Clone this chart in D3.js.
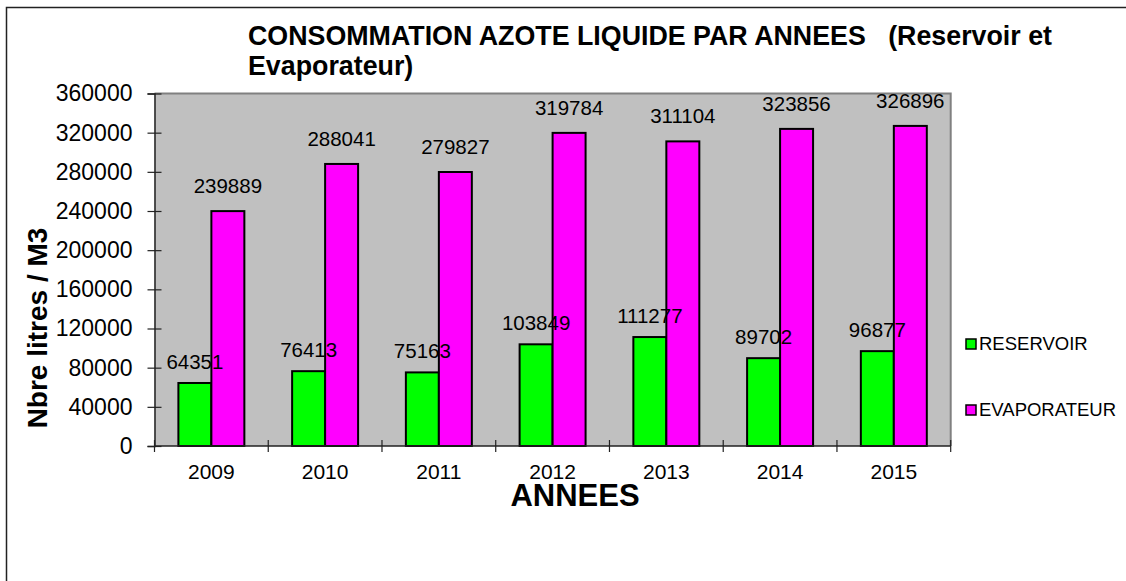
<!DOCTYPE html>
<html>
<head>
<meta charset="utf-8">
<script src="https://cdn.jsdelivr.net/npm/d3@7"></script>
<style>
  body { margin: 0; background: #fff; }
  text { font-family: "Liberation Sans", Arial, sans-serif; fill: #000; }
</style>
</head>
<body>
<div id="chart"></div>
<script>
var years = ["2009", "2010", "2011", "2012", "2013", "2014", "2015"];
var seriesNames = ["RESERVOIR", "EVAPORATEUR"];
var reservoir = [64351, 76413, 75163, 103849, 111277, 89702, 96877];
var evaporateur = [239889, 288041, 279827, 319784, 311104, 323856, 326896];
var yTicks = [0, 40000, 80000, 120000, 160000, 200000, 240000, 280000, 320000, 360000];
var colors = ["#00ff00", "#ff00ff"];

var svgWidth = 1126;
var svgHeight = 581;

var plot = { left: 154.5, top: 93.5, right: 950.7, bottom: 446 };

var svg = d3.select("#chart")
    .append("svg")
    .attr("width", svgWidth)
    .attr("height", svgHeight);

// outer frame of the chart object
svg.append("rect")
    .attr("x", 6.5).attr("y", 7.5)
    .attr("width", 1300).attr("height", 800)
    .attr("fill", "#fff")
    .attr("stroke", "#222")
    .attr("stroke-width", 1.5);

var x0 = d3.scaleBand()
    .domain(years)
    .range([plot.left, plot.right])
    .paddingInner(0.42)
    .paddingOuter(0.21);

var x1 = d3.scaleBand()
    .domain(seriesNames)
    .range([0, x0.bandwidth()]);

var y = d3.scaleLinear()
    .domain([0, 360000])
    .range([plot.bottom, plot.top]);

// plot area
svg.append("rect")
    .attr("x", plot.left).attr("y", plot.top)
    .attr("width", plot.right - plot.left)
    .attr("height", plot.bottom - plot.top)
    .attr("fill", "#c0c0c0");
svg.append("path")
    .attr("d", "M" + plot.left + "," + plot.top + "H" + plot.right + "V" + plot.bottom)
    .attr("fill", "none")
    .attr("stroke", "#808080")
    .attr("stroke-width", 2);

// bars
var rows = years.map(function(yr, i) {
    return { year: yr, values: [reservoir[i], evaporateur[i]] };
});

var groups = svg.append("g").selectAll("g")
    .data(rows)
    .enter()
    .append("g")
    .attr("transform", function(d) { return "translate(" + x0(d.year) + ",0)"; });

groups.selectAll("rect")
    .data(function(d) { return d.values.map(function(v, j) { return { name: seriesNames[j], value: v, idx: j }; }); })
    .enter()
    .append("rect")
    .attr("x", function(d) { return x1(d.name); })
    .attr("y", function(d) { return y(d.value); })
    .attr("width", x1.bandwidth())
    .attr("height", function(d) { return y(0) - y(d.value); })
    .attr("fill", function(d) { return colors[d.idx]; })
    .attr("stroke", "#000")
    .attr("stroke-width", 2);

groups.selectAll("text")
    .data(function(d) { return d.values.map(function(v, j) { return { name: seriesNames[j], value: v, idx: j }; }); })
    .enter()
    .append("text")
    .attr("x", function(d) { return x1(d.name) + x1.bandwidth() / 2; })
    .attr("y", function(d) { return y(d.value) - (d.idx === 1 ? 18 : 14); })
    .attr("text-anchor", "middle")
    .attr("font-size", 20.5)
    .text(function(d) { return d.value; });

// y axis
var leftAxis = d3.axisLeft(y)
    .tickValues(yTicks)
    .tickFormat(d3.format("d"))
    .tickSize(7)
    .tickPadding(15);

var yAxisG = svg.append("g")
    .attr("transform", "translate(" + plot.left + ",0)")
    .call(leftAxis);
yAxisG.select(".domain").attr("stroke", "#222").attr("stroke-width", 1.5);
yAxisG.selectAll(".tick line").attr("x1", 7).attr("stroke", "#222").attr("stroke-width", 1.2);
yAxisG.selectAll(".tick text")
    .attr("font-family", "Liberation Sans, Arial, sans-serif")
    .attr("font-size", 23)
    .attr("fill", "#000");

// x axis: line, ticks at category edges, labels
var xAxisG = svg.append("g");
xAxisG.append("line")
    .attr("x1", plot.left).attr("x2", plot.right)
    .attr("y1", y(0)).attr("y2", y(0))
    .attr("stroke", "#222").attr("stroke-width", 1.5);
var edges = d3.range(years.length + 1).map(function(i) {
    return x0.range()[0] + i * x0.step();
});
xAxisG.selectAll(".edge")
    .data(edges)
    .enter()
    .append("line")
    .attr("x1", function(d) { return d; })
    .attr("x2", function(d) { return d; })
    .attr("y1", y(0) - 6)
    .attr("y2", y(0) + 6)
    .attr("stroke", "#222")
    .attr("stroke-width", 1.2);
xAxisG.selectAll(".lbl")
    .data(years)
    .enter()
    .append("text")
    .attr("x", function(d) { return x0(d) + x0.bandwidth() / 2; })
    .attr("y", y(0) + 33)
    .attr("text-anchor", "middle")
    .attr("font-size", 21)
    .text(function(d) { return d; });

// titles
var title = svg.append("text")
    .attr("x", 248)
    .attr("y", 45)
    .attr("font-size", 26.8)
    .attr("font-weight", "bold");
title.append("tspan").attr("x", 248).attr("y", 45)
    .attr("xml:space", "preserve")
    .style("white-space", "pre")
    .text("CONSOMMATION AZOTE LIQUIDE PAR ANNEES   (Reservoir et");
title.append("tspan").attr("x", 248).attr("y", 75)
    .text("Evaporateur)");

svg.append("text")
    .attr("x", 575)
    .attr("y", 506)
    .attr("text-anchor", "middle")
    .attr("font-size", 31)
    .attr("font-weight", "bold")
    .text("ANNEES");

svg.append("text")
    .attr("transform", "translate(47,328) rotate(-90)")
    .attr("text-anchor", "middle")
    .attr("font-size", 28)
    .attr("font-weight", "bold")
    .text("Nbre litres / M3");

// legend
var legend = svg.append("g").selectAll("g")
    .data(seriesNames)
    .enter()
    .append("g")
    .attr("transform", function(d, i) { return "translate(966," + (339 + i * 66) + ")"; });
legend.append("rect")
    .attr("width", 10).attr("height", 10)
    .attr("fill", function(d, i) { return colors[i]; })
    .attr("stroke", "#000")
    .attr("stroke-width", 1.5);
legend.append("text")
    .attr("x", 13)
    .attr("y", 11)
    .attr("font-size", 18.5)
    .text(function(d) { return d; });
</script>
</body>
</html>
